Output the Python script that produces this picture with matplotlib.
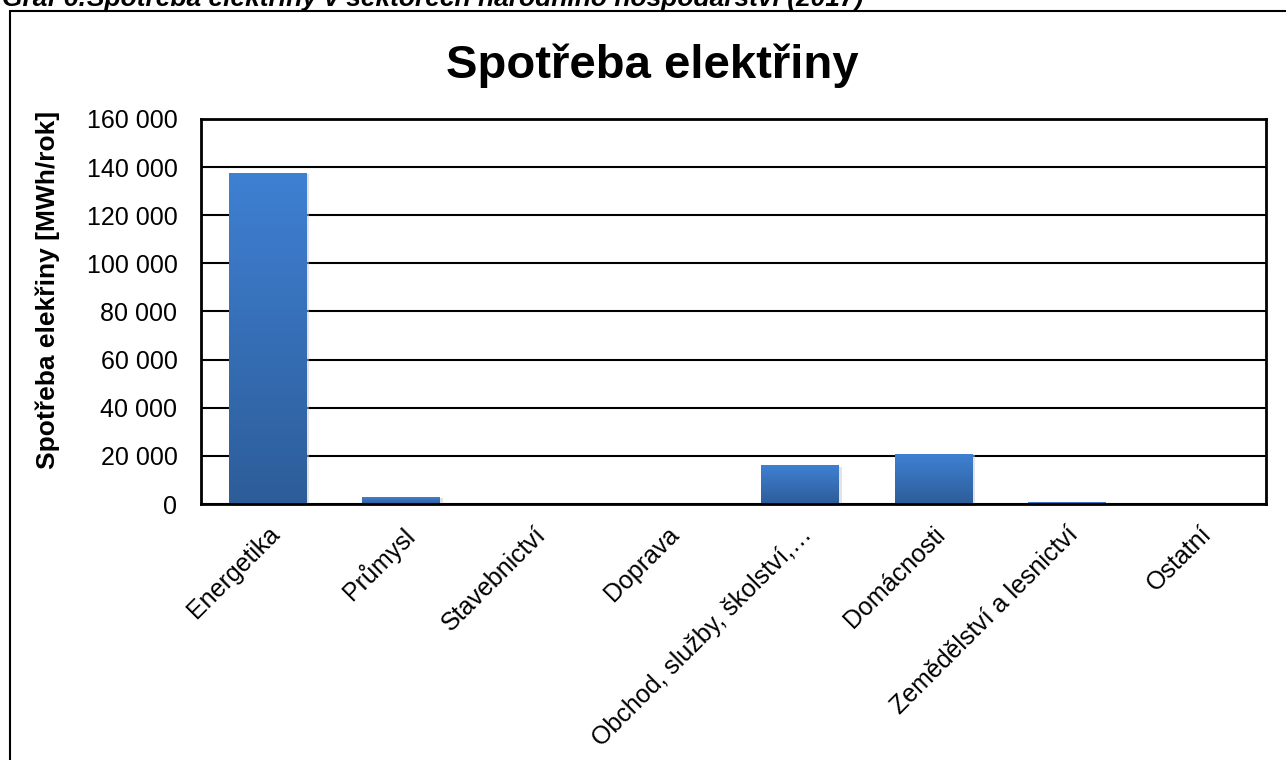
import matplotlib.pyplot as plt
import numpy as np
from matplotlib.patches import Rectangle
from matplotlib.colors import LinearSegmentedColormap
from matplotlib.ticker import FuncFormatter

plt.rcParams['font.family'] = ['Liberation Sans', 'DejaVu Sans']

# Data
sectors = ['Energetika', 'Průmysl', 'Stavebnictví', 'Doprava',
           'Obchod, služby, školství,…', 'Domácnosti',
           'Zemědělství a lesnictví', 'Ostatní']
consumption = [137500, 2800, 0, 0, 15800, 20500, 700, 0]
yticks = [0, 20000, 40000, 60000, 80000, 100000, 120000, 140000, 160000]

W, H = 1286, 760
fig = plt.figure(figsize=(W / 100, H / 100), dpi=100)

# outer chart frame (cut at right and bottom like the screenshot)
fig.patches.append(Rectangle((10 / W, -0.1), 1.2, 1 - 11 / H + 0.1,
                             transform=fig.transFigure, fill=False,
                             edgecolor='black', linewidth=1.5))

# caption cut off at the top edge
fig.text(2 / W, 1 - 6 / H,
         'Graf 6:Spotřeba elektřiny v sektorech národního hospodářství (2017)',
         fontsize=19, fontweight='bold', fontstyle='italic',
         ha='left', va='baseline')

ax = fig.add_axes([201 / W, 1 - 504 / H, (1266 - 201) / W, (504 - 119) / H])

x = np.arange(len(sectors))
bw = 0.58
cmap = LinearSegmentedColormap.from_list('bar', ['#2d5d99', '#3f80d3'])
grad = np.linspace(0, 1, 256).reshape(-1, 1)
for xi, v in zip(x, consumption):
    if v <= 0:
        continue
    # soft shadow
    ax.add_patch(Rectangle((xi - bw / 2 + 0.015, -700), bw + 0.01, v + 400,
                           facecolor='#c8c8c8', alpha=0.5, edgecolor='none',
                           zorder=2, clip_on=False))
    ax.imshow(grad, cmap=cmap, origin='lower', aspect='auto',
              extent=(xi - bw / 2, xi + bw / 2, 0, v), zorder=3)

ax.set_xlim(-0.5, len(sectors) - 0.5)
ax.set_ylim(0, 160000)
ax.set_yticks(yticks)
ax.yaxis.set_major_formatter(FuncFormatter(lambda v, p: f'{int(v):,}'.replace(',', ' ')))
ax.set_xticks(x)
ax.set_xticklabels(sectors, rotation=45, ha='right', rotation_mode='anchor')
ax.tick_params(axis='both', length=0, labelsize=18)
ax.tick_params(axis='y', pad=17)
ax.tick_params(axis='x', pad=13)
ax.grid(axis='y', color='black', linewidth=1.5, zorder=1)
ax.set_axisbelow(True)
for s in ax.spines.values():
    s.set_linewidth(2)
    s.set_color('black')
    s.set_zorder(4)

ax.set_ylabel('Spotřeba elekřiny [MWh/rok]', fontsize=19, fontweight='bold',
              family=['Liberation Sans Narrow', 'Liberation Sans', 'DejaVu Sans'])
ax.yaxis.set_label_coords(-0.132, 0.555)

fig.text(652 / W, 1 - 66 / H, 'Spotřeba elektřiny', fontsize=34,
         fontweight='bold', ha='center', va='center')

fig.savefig('out.png', dpi=100)
